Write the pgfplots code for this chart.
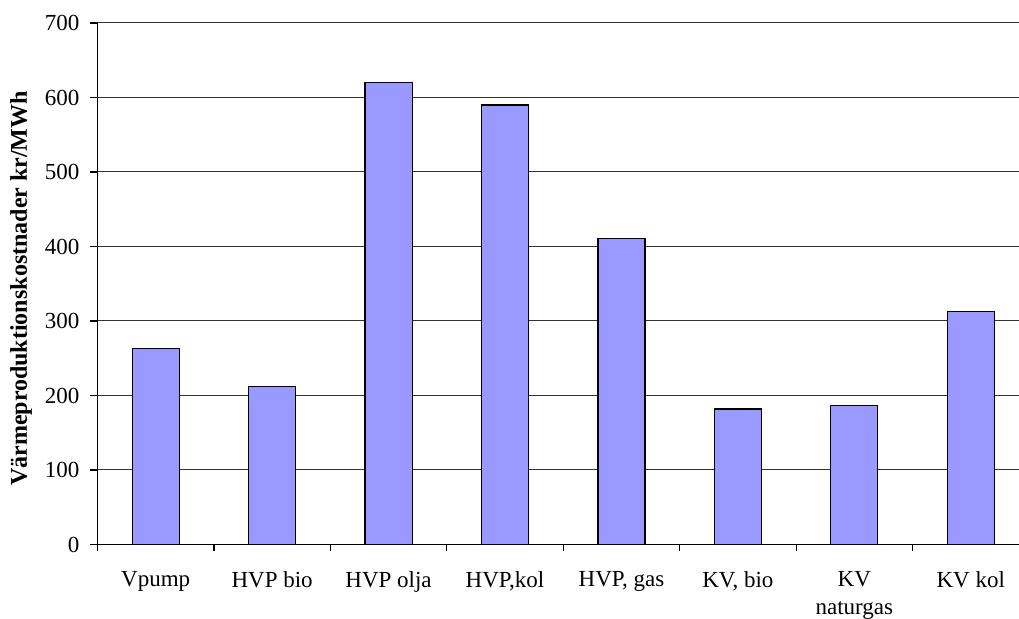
\documentclass[border=0pt]{standalone}
\usepackage{pgfplots}
\pgfplotsset{compat=1.18}
\usepackage{fontspec}
\setmainfont{Liberation Serif}
\definecolor{barblue}{HTML}{9999FF}
\begin{document}
\begin{tikzpicture}
\useasboundingbox (-48.75pt,-37.25pt) rectangle (460.75pt,272.25pt);
\begin{scope}
\clip (-48.75pt,-37.25pt) rectangle (460.75pt,272.25pt);
\begin{axis}[
  at={(0pt,0pt)}, anchor=south west,
  scale only axis, width=465.75pt, height=260.75pt,
  xmin=0.5, xmax=8.5, ymin=0, ymax=700,
  axis x line*=bottom, axis y line*=left,
  axis line style={black, line width=0.6pt},
  tick align=outside,
  major tick length=3.5pt,
  tick style={black, line width=0.6pt},
  xtick={0.5,1.5,2.5,3.5,4.5,5.5,6.5,7.5,8.5},
  x tick label as interval,
  xticklabels={Vpump,HVP bio,HVP olja,{HVP,kol},{HVP, gas},{KV, bio},{KV\\naturgas},KV kol},
  ytick={0,100,200,300,400,500,600,700},
  ymajorgrids,
  major grid style={draw=black!80, line width=0.5pt},
  /pgf/number format/assume math mode=true,
  every tick label/.append style={font=\fontsize{11.5}{14}\selectfont},
  xticklabel style={align=center, yshift=-6.5pt},
  yticklabel style={xshift=-2pt},
  ylabel={Värmeproduktionskostnader kr/MWh},
  ylabel style={font=\bfseries\fontsize{12}{14}\selectfont, at={(axis description cs:-0.0821,0.491)}, anchor=center},
]
\addplot[ybar, bar width=0.404, fill=barblue, draw=black, line width=0.6pt]
  coordinates {(1,263) (2,212) (3,620) (4,590) (5,411) (6,182) (7,187) (8,313)};
\end{axis}
\end{scope}
\end{tikzpicture}
\end{document}
